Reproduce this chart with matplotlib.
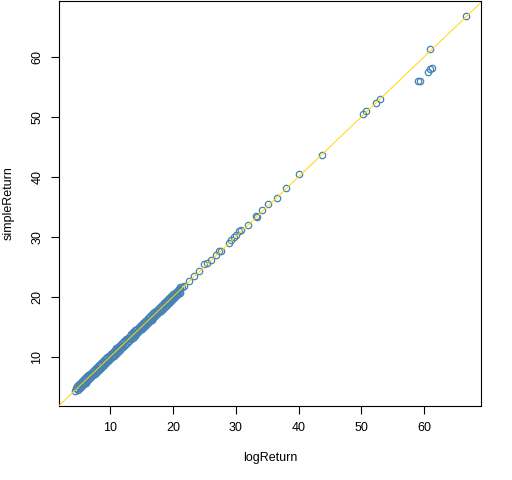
import matplotlib
matplotlib.use('Agg')
import matplotlib.pyplot as plt

plt.rcParams['font.family'] = ['Liberation Sans', 'DejaVu Sans']

# dense band of points (centre of the band)
log_dense = [4.4, 4.6, 4.8, 5.0, 5.2, 5.4, 5.6, 5.8, 6.0, 6.2, 6.4, 6.6, 6.8,
             7.0, 7.2, 7.4, 7.6, 7.8, 8.0, 8.2, 8.4, 8.6, 8.8, 9.0, 9.2, 9.4,
             9.6, 9.8, 10.0, 10.2, 10.4, 10.6, 10.8, 11.0, 11.2, 11.4, 11.6,
             11.8, 12.0, 12.2, 12.4, 12.6, 12.8, 13.0, 13.2, 13.4, 13.6, 13.8,
             14.0, 14.2, 14.4, 14.6, 14.8, 15.0, 15.2, 15.4, 15.6, 15.8, 16.0,
             16.2, 16.4, 16.6, 16.8, 17.0, 17.2, 17.4, 17.6, 17.8, 18.0, 18.2,
             18.4, 18.6, 18.8, 19.0, 19.2, 19.4, 19.6, 19.8, 20.0, 20.3, 20.6,
             20.9, 21.2, 21.5, 21.8]
simple_dense = [4.3, 4.8, 4.6, 5.2, 5.0, 5.6, 5.5, 6.0, 5.8, 6.4, 6.3, 6.8,
                6.6, 7.2, 7.1, 7.6, 7.4, 8.0, 7.9, 8.4, 8.2, 8.8, 8.7, 9.2, 9.0,
                9.6, 9.5, 10.0, 9.8, 10.4, 10.3, 10.8, 10.6, 11.2, 11.1, 11.6,
                11.4, 12.0, 11.9, 12.4, 12.2, 12.8, 12.7, 13.2, 13.0, 13.6,
                13.5, 14.0, 13.8, 14.4, 14.3, 14.8, 14.6, 15.2, 15.1, 15.6,
                15.4, 16.0, 15.9, 16.4, 16.2, 16.8, 16.7, 17.2, 17.0, 17.6,
                17.5, 18.0, 17.8, 18.4, 18.3, 18.8, 18.6, 19.2, 19.1, 19.6,
                19.4, 20.0, 19.9, 20.5, 20.4, 21.1, 21.0, 21.6, 21.8]

# upper edge of the band
log_upper = [4.7, 5.0, 5.3, 5.6, 5.9, 6.2, 6.5, 6.8, 7.1, 7.4, 7.7, 8.0, 8.3,
             8.6, 8.9, 9.2, 9.5, 9.8, 10.1, 10.4, 10.7, 11.0, 11.3, 11.6,
             11.9, 12.2, 12.5, 12.8, 13.1, 13.4, 13.7, 14.0, 14.3, 14.6, 14.9,
             15.2, 15.5, 15.8, 16.1, 16.4, 16.7, 17.0, 17.3, 17.6, 17.9, 18.2,
             18.5, 18.8, 19.1, 19.4, 19.7, 20.0, 20.3, 20.6, 20.9, 21.2]
simple_upper = [5.1, 5.4, 5.7, 6.0, 6.3, 6.6, 6.9, 7.2, 7.5, 7.8, 8.1, 8.4,
                8.7, 9.0, 9.3, 9.6, 9.9, 10.2, 10.5, 10.8, 11.1, 11.4, 11.7,
                12.0, 12.3, 12.6, 12.9, 13.2, 13.5, 13.8, 14.1, 14.4, 14.7,
                15.0, 15.3, 15.6, 15.9, 16.2, 16.5, 16.8, 17.1, 17.4, 17.7,
                18.0, 18.3, 18.6, 18.9, 19.2, 19.5, 19.8, 20.1, 20.4, 20.7,
                21.0, 21.3, 21.6]

# lower edge of the band
log_lower = [4.9, 5.2, 5.5, 5.8, 6.1, 6.4, 6.7, 7.0, 7.3, 7.6, 7.9, 8.2, 8.5,
             8.8, 9.1, 9.4, 9.7, 10.0, 10.3, 10.6, 10.9, 11.2, 11.5, 11.8,
             12.1, 12.4, 12.7, 13.0, 13.3, 13.6, 13.9, 14.2, 14.5, 14.8, 15.1,
             15.4, 15.7, 16.0, 16.3, 16.6, 16.9, 17.2, 17.5, 17.8, 18.1, 18.4,
             18.7, 19.0, 19.3, 19.6, 19.9, 20.2, 20.5, 20.8, 21.1]
simple_lower = [4.5, 4.8, 5.1, 5.4, 5.7, 6.0, 6.3, 6.6, 6.9, 7.2, 7.5, 7.8,
                8.1, 8.4, 8.7, 9.0, 9.3, 9.6, 9.9, 10.2, 10.5, 10.8, 11.1,
                11.4, 11.7, 12.0, 12.3, 12.6, 12.9, 13.2, 13.5, 13.8, 14.1,
                14.4, 14.7, 15.0, 15.3, 15.6, 15.9, 16.2, 16.5, 16.8, 17.1,
                17.4, 17.7, 18.0, 18.3, 18.6, 18.9, 19.2, 19.5, 19.8, 20.1,
                20.4, 20.7]

# sparser points further up
log_sparse = [22.6, 23.4, 24.2, 25.0, 25.5, 26.1, 26.9, 27.4, 27.6, 28.9,
              29.2, 29.7, 30.0, 30.5, 30.9, 32.0, 33.2, 33.4, 34.2, 35.2,
              36.6, 38.0, 40.1, 43.7, 50.3, 50.8, 52.3, 52.9, 59.0, 59.3,
              60.55, 60.9, 61.2, 60.9, 66.6]
simple_sparse = [22.6, 23.4, 24.3, 25.4, 25.7, 26.2, 27.05, 27.6, 27.6, 28.9,
                 29.5, 29.9, 30.3, 30.9, 31.1, 31.9, 33.4, 33.3, 34.5, 35.5,
                 36.5, 38.2, 40.5, 43.7, 50.5, 50.9, 52.3, 53.05, 56.0, 56.0,
                 57.55, 58.0, 58.2, 61.3, 66.8]

log_ret = log_dense + log_upper + log_lower + log_sparse
simple_ret = simple_dense + simple_upper + simple_lower + simple_sparse

ticks = [10, 20, 30, 40, 50, 60]

fig = plt.figure(figsize=(5.12, 4.8), dpi=100)
ax = fig.add_axes([59.3 / 512, 1 - 406 / 480, 422 / 512, 405 / 480])

ax.plot(log_ret, simple_ret, 'o', mfc='none', mec='#4682B4',
        ms=4.6, mew=0.9, zorder=2)
ax.axline((0, 0), slope=1, color='#FFD700', lw=0.7, zorder=3)

pad_x = (max(log_ret) - min(log_ret)) * 0.04
pad_y = (max(simple_ret) - min(simple_ret)) * 0.04
ax.set_xlim(min(log_ret) - pad_x, max(log_ret) + pad_x)
ax.set_ylim(min(simple_ret) - pad_y, max(simple_ret) + pad_y)

ax.set_xticks(ticks)
ax.set_yticks(ticks)
ax.tick_params(direction='out', length=5.5, width=0.8, labelsize=9, pad=6,
               colors='black')
for lab in ax.get_yticklabels():
    lab.set_rotation(90)
    lab.set_va('center')
for s in ax.spines.values():
    s.set_linewidth(0.8)
    s.set_color('black')

ax.set_xlabel('logReturn', fontsize=9)
ax.set_ylabel('simpleReturn', fontsize=9)
ax.xaxis.set_label_coords(0.5, -(458 - 406) / 405)
ax.xaxis.label.set_va('center')
ax.yaxis.set_label_coords(-(59.3 - 9) / 422, 0.5)
ax.yaxis.label.set_va('center')

fig.savefig('out.png', dpi=100)
